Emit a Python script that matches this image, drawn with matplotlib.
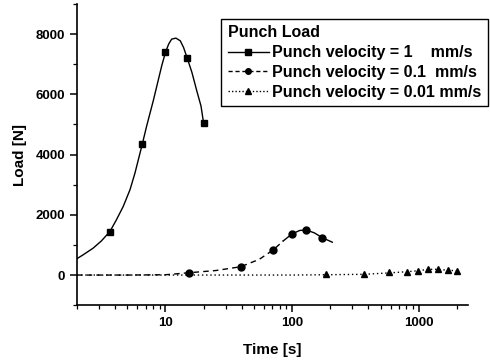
import matplotlib
matplotlib.use("Agg")
import matplotlib.pyplot as plt
from matplotlib.ticker import LogLocator, MultipleLocator, NullFormatter

plt.rcParams['font.family'] = ['Liberation Sans', 'DejaVu Sans']
plt.rcParams['font.weight'] = 'bold'

# measured points
t1 = [3.64, 6.56, 10.0, 14.9, 20.0]
load1 = [1443, 4343, 7390, 7190, 5057]
t2 = [15.4, 39.4, 71, 100, 129, 173]
load2 = [77, 277, 833, 1367, 1500, 1243]
t3 = [185, 372, 578, 804, 993, 1186, 1413, 1697, 2000]
load3 = [30, 25, 90, 110, 143, 190, 190, 160, 143]

# fitted curves
fit1_t = [2.0, 2.23, 2.68, 3.12, 3.64, 4.10, 4.64, 5.25, 5.75, 6.56, 7.11,
          8.03, 9.35, 10.0, 10.6, 11.2, 12.1, 13.1, 13.9, 14.9, 16.2,
          17.7, 19.1, 20.0]
fit1_y = [543, 667, 890, 1133, 1443, 1833, 2277, 2833, 3390, 4343, 4950,
          5800, 6950, 7390, 7667, 7833, 7867, 7777, 7557, 7190, 6723,
          6110, 5610, 5057]
fit2a_t = [2.0, 5.0, 10.0, 15.4, 25, 39.4, 55, 71, 85]
fit2a_y = [0, 0, 10, 77, 150, 277, 520, 833, 1130]
fit2b_t = [85, 100, 115, 129, 150, 173, 208]
fit2b_y = [1130, 1367, 1480, 1500, 1400, 1243, 1090]
fit3_t = [2.0, 20, 100, 185, 372, 578, 804, 993, 1186, 1413, 1697, 2000]
fit3_y = [0, 0, 0, 10, 25, 70, 110, 143, 190, 190, 160, 143]

fig = plt.figure(figsize=(4.9, 3.62), dpi=100)
ax = fig.add_axes([0.157, 0.157, 0.798, 0.832])

ax.plot(fit1_t, fit1_y, color='black', lw=1.0)
ax.plot(fit2a_t, fit2a_y, color='black', lw=1.0, dashes=(4, 3))
ax.plot(fit2b_t, fit2b_y, color='black', lw=1.0)
ax.plot(fit3_t, fit3_y, color='black', lw=1.0, dashes=(1, 2))

ax.plot(t1, load1, ls='none', marker='s', ms=4.5, color='black')
ax.plot(t2, load2, ls='none', marker='o', ms=5, color='black')
ax.plot(t3, load3, ls='none', marker='^', ms=5, color='black')

# legend proxies
h1, = ax.plot([], [], color='black', lw=1.0, marker='s', ms=4)
h2, = ax.plot([], [], color='black', lw=1.0, marker='o', ms=4, dashes=(3, 2))
h3, = ax.plot([], [], color='black', lw=1.0, marker='^', ms=4, dashes=(1, 1.5))
leg = fig.legend([h1, h2, h3],
                 ['Punch velocity = 1    mm/s', 'Punch velocity = 0.1  mm/s', 'Punch velocity = 0.01 mm/s'],
                 title='Punch Load', loc='upper right',
                 bbox_to_anchor=(488 / 490, 1 - 19 / 362), borderaxespad=0,
                 fancybox=False, edgecolor='black', framealpha=1,
                 fontsize=11.5, title_fontsize=11.5, handlelength=2.6,
                 handletextpad=0.2, labelspacing=0.3, borderpad=0.4)
leg.get_frame().set_linewidth(1.0)
leg._legend_box.align = 'left'
leg.get_title().set_fontweight('bold')

ax.set_xscale('log')
ax.set_xlim(2, 2450)
ax.set_ylim(-1000, 9000)
ax.yaxis.set_major_locator(MultipleLocator(2000))
ax.yaxis.set_minor_locator(MultipleLocator(1000))
ax.xaxis.set_minor_locator(LogLocator(base=10, subs=range(2, 10)))
ax.xaxis.set_minor_formatter(NullFormatter())
ax.set_xticks([10, 100, 1000])
ax.set_xticklabels(['10', '100', '1000'])

for s in ['top', 'right']:
    ax.spines[s].set_visible(False)
for s in ['left', 'bottom']:
    ax.spines[s].set_linewidth(1.2)
ax.tick_params(which='major', direction='out', length=5, width=1.1, labelsize=9.5)
ax.tick_params(which='minor', direction='out', length=3, width=0.9)

ax.set_xlabel('Time [s]', fontsize=11, fontweight='bold', labelpad=10)
ax.set_ylabel('Load [N]', fontsize=11, fontweight='bold', labelpad=6)

fig.savefig('out.png', dpi=100)
